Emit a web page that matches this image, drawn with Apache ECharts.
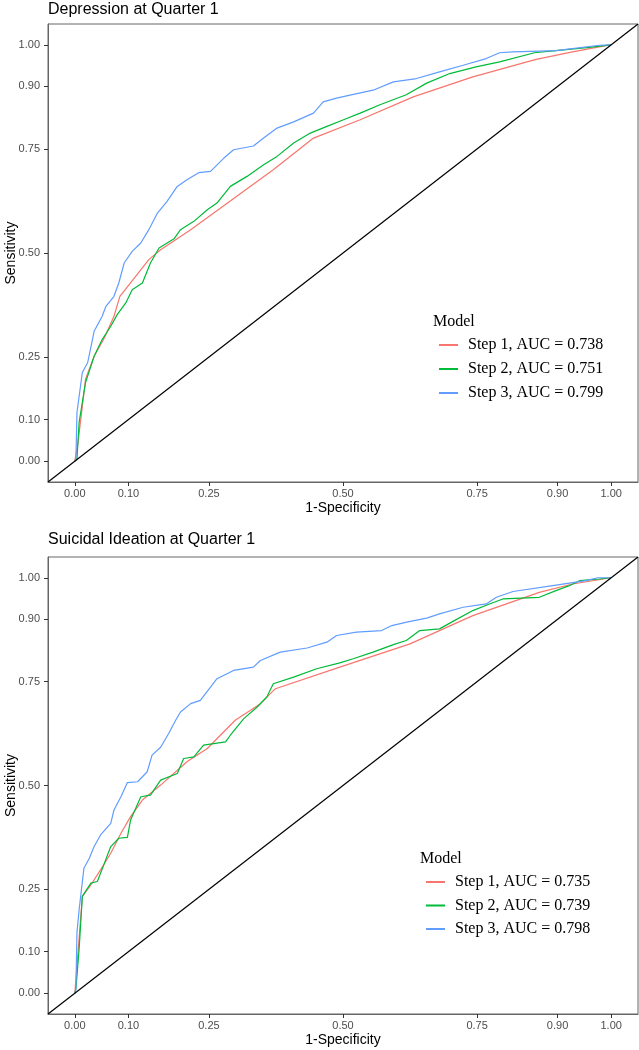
<!DOCTYPE html>
<html>
<head>
<meta charset="utf-8">
<script src="https://cdn.jsdelivr.net/npm/echarts@6/dist/echarts.min.js"></script>
<style>
  html, body { margin: 0; padding: 0; background: #fff; }
  #chart { width: 639px; height: 1050px; }
</style>
</head>
<body>
<div id="chart"></div>
<script>
// tick labels on both axes
const xTicks = [0, 0.1, 0.25, 0.5, 0.75, 0.9, 1];
const yTicks = [0, 0.1, 0.25, 0.5, 0.75, 0.9, 1];

const titles = ["Depression at Quarter 1", "Suicidal Ideation at Quarter 1"];
const depNames = ["Step 1, AUC = 0.738", "Step 2, AUC = 0.751", "Step 3, AUC = 0.799"];
const suiNames = ["Step 1, AUC = 0.735", "Step 2, AUC = 0.739", "Step 3, AUC = 0.798"];
const colors = ["#F8766D", "#00BA38", "#619CFF"];

// [1-specificity, sensitivity]
const depStep1 = [[0,0],[0.006,0.045],[0.020,0.197],[0.036,0.252],[0.055,0.296],[0.073,0.348],[0.084,0.396],[0.138,0.484],[0.160,0.508],[0.216,0.556],[0.293,0.628],[0.370,0.700],[0.445,0.776],[0.532,0.820],[0.631,0.875],[0.742,0.923],[0.860,0.965],[0.928,0.983],[0.990,0.998],[1,1]];
const depStep2 = [[0,0],[0.004,0.005],[0.008,0.093],[0.020,0.189],[0.036,0.252],[0.051,0.292],[0.067,0.324],[0.079,0.352],[0.095,0.380],[0.107,0.412],[0.126,0.428],[0.141,0.476],[0.157,0.512],[0.185,0.534],[0.197,0.556],[0.222,0.576],[0.247,0.604],[0.265,0.620],[0.290,0.660],[0.321,0.684],[0.352,0.712],[0.377,0.732],[0.408,0.764],[0.439,0.788],[0.470,0.804],[0.501,0.820],[0.532,0.836],[0.569,0.856],[0.618,0.880],[0.656,0.908],[0.699,0.931],[0.748,0.947],[0.792,0.959],[0.857,0.981],[0.897,0.986],[0.959,0.994],[1,1]];
const depStep3 = [[0,0],[0.002,0.005],[0.004,0.117],[0.014,0.213],[0.024,0.237],[0.036,0.312],[0.051,0.348],[0.058,0.372],[0.073,0.396],[0.082,0.428],[0.092,0.476],[0.107,0.504],[0.123,0.524],[0.138,0.556],[0.154,0.596],[0.172,0.624],[0.191,0.660],[0.209,0.676],[0.231,0.693],[0.253,0.696],[0.278,0.728],[0.296,0.748],[0.333,0.757],[0.352,0.776],[0.377,0.800],[0.408,0.815],[0.445,0.836],[0.463,0.863],[0.488,0.872],[0.513,0.879],[0.556,0.891],[0.594,0.911],[0.637,0.919],[0.680,0.935],[0.724,0.951],[0.767,0.967],[0.792,0.981],[0.817,0.983],[0.897,0.986],[0.978,0.999],[1,1]];

const suiStep1 = [[0,0],[0.005,0.082],[0.014,0.233],[0.030,0.261],[0.048,0.297],[0.067,0.337],[0.086,0.385],[0.104,0.425],[0.126,0.465],[0.160,0.501],[0.209,0.557],[0.247,0.589],[0.299,0.657],[0.346,0.697],[0.374,0.733],[0.494,0.785],[0.625,0.841],[0.742,0.909],[0.866,0.965],[0.928,0.985],[1,1]];
const suiStep2 = [[0,0],[0.002,0.010],[0.008,0.106],[0.014,0.233],[0.030,0.265],[0.042,0.269],[0.054,0.309],[0.067,0.353],[0.082,0.373],[0.098,0.375],[0.104,0.417],[0.123,0.473],[0.141,0.477],[0.160,0.513],[0.191,0.529],[0.203,0.565],[0.222,0.569],[0.240,0.597],[0.281,0.605],[0.290,0.621],[0.315,0.661],[0.340,0.689],[0.358,0.713],[0.370,0.745],[0.408,0.761],[0.451,0.781],[0.494,0.795],[0.519,0.805],[0.556,0.821],[0.594,0.839],[0.618,0.849],[0.643,0.873],[0.680,0.877],[0.705,0.895],[0.742,0.921],[0.773,0.937],[0.798,0.949],[0.866,0.953],[0.897,0.969],[0.922,0.981],[0.941,0.993],[0.978,0.997],[1,1]];
const suiStep3 = [[0,0],[0.002,0.010],[0.004,0.146],[0.008,0.201],[0.017,0.301],[0.027,0.325],[0.036,0.353],[0.048,0.381],[0.067,0.409],[0.073,0.441],[0.086,0.473],[0.098,0.507],[0.117,0.509],[0.135,0.533],[0.144,0.573],[0.160,0.592],[0.175,0.625],[0.188,0.657],[0.197,0.677],[0.216,0.697],[0.234,0.705],[0.253,0.737],[0.265,0.757],[0.296,0.777],[0.333,0.785],[0.346,0.801],[0.383,0.821],[0.433,0.831],[0.470,0.845],[0.488,0.861],[0.525,0.869],[0.572,0.873],[0.591,0.885],[0.621,0.894],[0.656,0.903],[0.680,0.913],[0.724,0.929],[0.767,0.937],[0.786,0.953],[0.817,0.967],[0.891,0.981],[0.953,0.993],[0.975,1.0],[1,1]];

// chance line, drawn across the whole panel
const diagonal = [[-0.05, -0.05], [1.05, 1.05]];

const sans = "Liberation Sans, Arial, Helvetica, sans-serif";
const serif = "Liberation Serif, Times New Roman, serif";

const chart = echarts.init(document.getElementById("chart"));

const makeX = (idx) => ({
  type: "value",
  gridIndex: idx,
  min: -0.05,
  max: 1.05,
  name: "1-Specificity",
  nameLocation: "middle",
  nameGap: 19,
  nameMoveOverlap: false,
  nameTextStyle: { fontFamily: sans, fontSize: 14, color: "#000" },
  axisLine: { show: true, onZero: false, lineStyle: { color: "#666", width: 1 } },
  splitLine: { show: false },
  axisTick: { show: true, customValues: xTicks, length: 4, lineStyle: { color: "#333", width: 1 } },
  axisLabel: {
    customValues: xTicks,
    margin: 6,
    fontFamily: sans,
    fontSize: 11,
    color: "#4D4D4D",
    formatter: (v) => v.toFixed(2)
  }
});

const makeY = (idx) => ({
  type: "value",
  gridIndex: idx,
  min: -0.05,
  max: 1.05,
  name: "Sensitivity",
  nameLocation: "middle",
  nameGap: 30,
  nameMoveOverlap: false,
  nameTextStyle: { fontFamily: sans, fontSize: 14, color: "#000" },
  axisLine: { show: true, onZero: false, lineStyle: { color: "#666", width: 1 } },
  splitLine: { show: false },
  axisTick: { show: true, customValues: yTicks, length: 4, lineStyle: { color: "#333", width: 1 } },
  axisLabel: {
    customValues: yTicks,
    margin: 8,
    fontFamily: sans,
    fontSize: 11,
    color: "#4D4D4D",
    formatter: (v) => v.toFixed(2)
  }
});

const curve = (name, data, color, idx) => ({
  name: name,
  type: "line",
  xAxisIndex: idx,
  yAxisIndex: idx,
  data: data,
  showSymbol: false,
  color: color,
  lineStyle: { width: 1.2, color: color }
});

const chance = (idx) => ({
  type: "line",
  xAxisIndex: idx,
  yAxisIndex: idx,
  data: diagonal,
  showSymbol: false,
  silent: true,
  lineStyle: { width: 1.2, color: "#000" },
  z: 3
});

const legendStyle = {
  orient: "vertical",
  icon: "rect",
  itemWidth: 19,
  itemHeight: 2,
  selectedMode: false,
  textStyle: { fontFamily: serif, fontSize: 16, lineHeight: 16, color: "#000", padding: [0, 0, 0, 5] }
};

const titleStyle = { fontFamily: sans, fontSize: 16, fontWeight: "normal", color: "#000" };
const modelStyle = { fontFamily: serif, fontSize: 16, fontWeight: "normal", color: "#000" };

const option = {
  animation: false,
  backgroundColor: "#fff",
  title: [
    { text: titles[0], left: 48, top: 2, padding: 0, textStyle: titleStyle },
    { text: titles[1], left: 48, top: 532, padding: 0, textStyle: titleStyle },
    { text: "Model", left: 428, top: 309, textStyle: modelStyle },
    { text: "Model", left: 415, top: 846, textStyle: modelStyle }
  ],
  legend: [
    Object.assign({ data: depNames, left: 434, top: 332, itemGap: 8 }, legendStyle),
    Object.assign({ data: suiNames, left: 421, top: 869, itemGap: 7.5 }, legendStyle)
  ],
  grid: [
    { left: 48, top: 24, width: 590, height: 458, containLabel: false, outerBoundsMode: "none",
      show: true, borderColor: "#666", borderWidth: 1, backgroundColor: "transparent" },
    { left: 48, top: 557, width: 590, height: 457, containLabel: false, outerBoundsMode: "none",
      show: true, borderColor: "#666", borderWidth: 1, backgroundColor: "transparent" }
  ],
  xAxis: [makeX(0), makeX(1)],
  yAxis: [makeY(0), makeY(1)],
  series: [
    curve(depNames[0], depStep1, colors[0], 0),
    curve(depNames[1], depStep2, colors[1], 0),
    curve(depNames[2], depStep3, colors[2], 0),
    chance(0),
    curve(suiNames[0], suiStep1, colors[0], 1),
    curve(suiNames[1], suiStep2, colors[1], 1),
    curve(suiNames[2], suiStep3, colors[2], 1),
    chance(1)
  ]
};

chart.setOption(option);
</script>
</body>
</html>
